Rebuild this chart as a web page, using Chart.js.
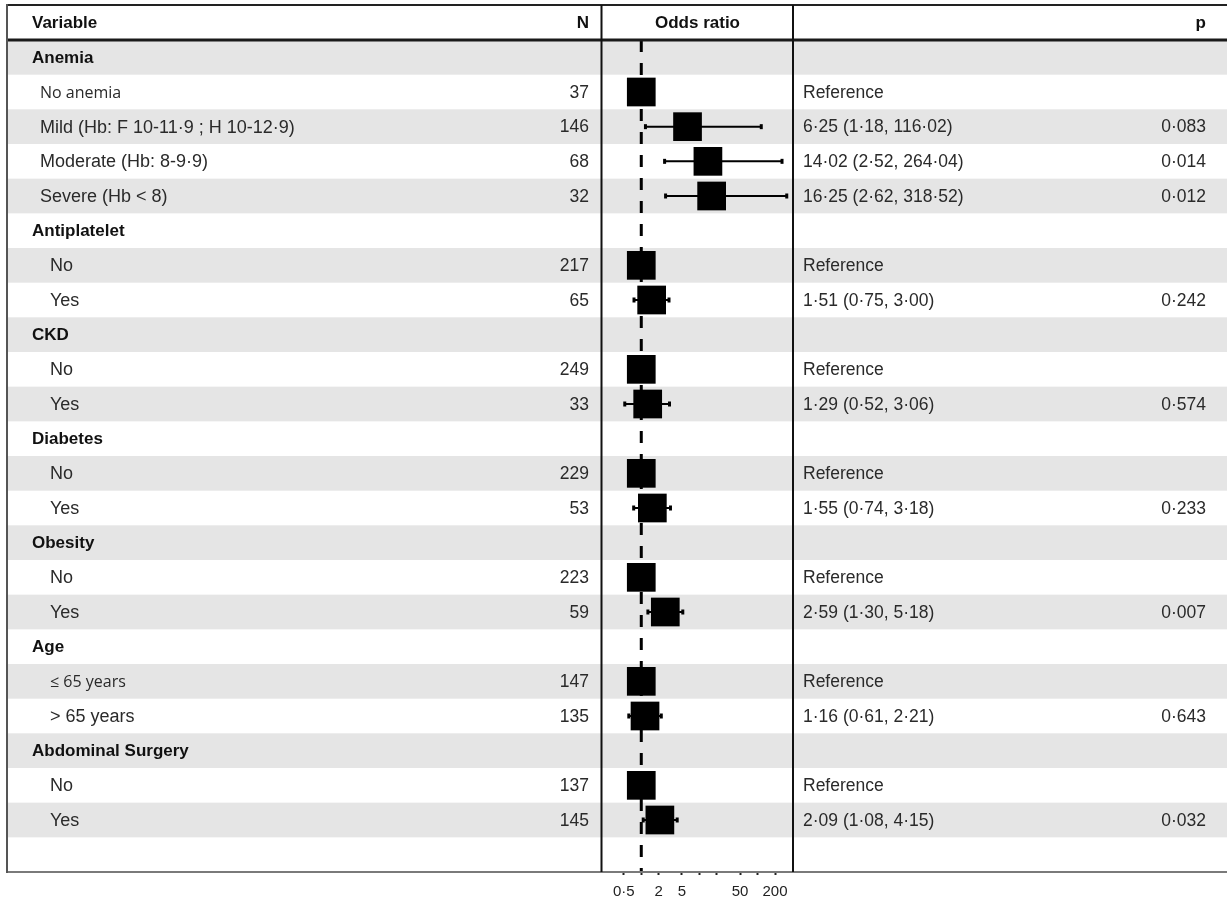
<!DOCTYPE html>
<html>
<head>
<meta charset="utf-8">
<title>Forest plot</title>
<script src="https://cdn.jsdelivr.net/npm/chart.js@4.4.1/dist/chart.umd.min.js"></script>
<style>
  html, body { margin: 0; padding: 0; background: #fff; }
  canvas { display: block; }
</style>
</head>
<body>
<canvas id="forest" width="1227" height="898"></canvas>
<script>
// ---- data -------------------------------------------------------------
const groupNames = ['Anemia', 'Antiplatelet', 'CKD', 'Diabetes', 'Obesity', 'Age', 'Abdominal Surgery'];
const levelLabels = [
  ['No anemia', 'Mild (Hb: F 10-11·9 ; H 10-12·9)', 'Moderate (Hb: 8-9·9)', 'Severe (Hb < 8)'],
  ['No', 'Yes'],
  ['No', 'Yes'],
  ['No', 'Yes'],
  ['No', 'Yes'],
  ['≤ 65 years', '> 65 years'],
  ['No', 'Yes']
];
const levelN = [[37, 146, 68, 32], [217, 65], [249, 33], [229, 53], [223, 59], [147, 135], [137, 145]];
// null = reference level (odds ratio fixed at 1)
const oddsRatio = [[null, 6.25, 14.02, 16.25], [null, 1.51], [null, 1.29], [null, 1.55], [null, 2.59], [null, 1.16], [null, 2.09]];
const ciLower   = [[null, 1.18, 2.52, 2.62],   [null, 0.75], [null, 0.52], [null, 0.74], [null, 1.30], [null, 0.61], [null, 1.08]];
const ciUpper   = [[null, 116.02, 264.04, 318.52], [null, 3.00], [null, 3.06], [null, 3.18], [null, 5.18], [null, 2.21], [null, 4.15]];
const pValues   = [[null, 0.083, 0.014, 0.012], [null, 0.242], [null, 0.574], [null, 0.233], [null, 0.007], [null, 0.643], [null, 0.032]];

const tickValues = [0.5, 1, 2, 5, 10, 20, 50, 100, 200];
const tickLabels = ['0·5', '', '2', '5', '', '', '50', '', '200'];
const headers = { variable: 'Variable', n: 'N', or: 'Odds ratio', p: 'p' };

// ---- row table --------------------------------------------------------
const rows = [];
groupNames.forEach((g, gi) => {
  rows.push({ kind: 'group', label: g, group: g });
  levelLabels[gi].forEach((lab, li) => {
    rows.push({
      kind: 'level', label: lab, group: g,
      n: levelN[gi][li],
      or: oddsRatio[gi][li], lo: ciLower[gi][li], hi: ciUpper[gi][li],
      p: pValues[gi][li]
    });
  });
});
rows.push({ kind: 'blank' });
const rowCount = rows.length;

const fmt = (v, d) => v.toFixed(d).replace('.', '·');

const squarePoints = [];
const ciPoints = [];
rows.forEach((r, i) => {
  if (r.kind !== 'level') return;
  const y = i + 0.5;
  squarePoints.push({ x: r.or == null ? 1 : r.or, y });
  if (r.or != null) {
    ciPoints.push({ x: r.lo, y }, { x: r.hi, y }, { x: null, y: null });
  }
});

// ---- drawing helpers ----------------------------------------------------
const FONT = '"Liberation Sans", Arial, sans-serif';
const compactLabels = new Set(['No anemia', '≤ 65 years']);
const levelIndent = { Anemia: 40 };

const tablePlugin = {
  id: 'tablePlugin',
  beforeDraw(chart) {
    const { ctx, width } = chart;
    const ys = chart.scales.y;
    ctx.save();
    ctx.fillStyle = '#fff';
    ctx.fillRect(0, 0, width, chart.height);
    ctx.fillStyle = '#e5e5e5';
    for (let i = 0; i < rowCount; i += 2) {
      const y0 = ys.getPixelForValue(i);
      const y1 = ys.getPixelForValue(i + 1);
      ctx.fillRect(8, y0, width - 8, y1 - y0);
    }
    ctx.restore();
  },
  afterDraw(chart) {
    const { ctx, width, chartArea } = chart;
    const ys = chart.scales.y;
    const top = 5, bottom = chartArea.bottom;
    ctx.save();

    // frame lines
    ctx.lineCap = 'butt';
    const line = (x0, y0, x1, y1, w, c) => {
      ctx.beginPath(); ctx.lineWidth = w; ctx.strokeStyle = c;
      ctx.moveTo(x0, y0); ctx.lineTo(x1, y1); ctx.stroke();
    };
    line(7, top, width, top, 2, '#222');
    line(7, 40, width, 40, 3, '#1a1a1a');
    line(7, bottom, width, bottom, 2, '#7a7a7a');
    line(7, top - 1, 7, bottom + 1, 2, '#555');
    line(chartArea.left - 0.5, top, chartArea.left - 0.5, bottom, 2, '#111');
    line(chartArea.right, top, chartArea.right, bottom, 2, '#111');

    // header
    const hy = 23;
    ctx.fillStyle = '#111';
    ctx.textBaseline = 'middle';
    ctx.font = 'bold 17px ' + FONT;
    ctx.textAlign = 'left';
    ctx.fillText(headers.variable, 32, hy);
    ctx.textAlign = 'right';
    ctx.fillText(headers.n, 589, hy);
    ctx.textAlign = 'center';
    ctx.fillText(headers.or, (chartArea.left + chartArea.right) / 2, hy);
    ctx.textAlign = 'right';
    ctx.fillText(headers.p, 1206, hy);

    // body
    rows.forEach((r, i) => {
      if (r.kind === 'blank') return;
      const y = ys.getPixelForValue(i + 0.5) + 1;
      if (r.kind === 'group') {
        ctx.fillStyle = '#111';
        ctx.font = 'bold 17px ' + FONT;
        ctx.textAlign = 'left';
        ctx.fillText(r.label, 32, y);
        return;
      }
      ctx.fillStyle = '#2a2a2a';
      ctx.textAlign = 'left';
      ctx.font = compactLabels.has(r.label) ? '16px "Open Sans", sans-serif' : '18px ' + FONT;
      ctx.fillText(r.label, levelIndent[r.group] || 50, y);

      ctx.font = '17.5px ' + FONT;
      ctx.textAlign = 'right';
      ctx.fillText(String(r.n), 589, y);

      ctx.textAlign = 'left';
      const est = r.or == null ? 'Reference'
        : `${fmt(r.or, 2)} (${fmt(r.lo, 2)}, ${fmt(r.hi, 2)})`;
      ctx.fillText(est, 803, y);

      if (r.p != null) {
        ctx.textAlign = 'right';
        ctx.fillText(fmt(r.p, 3), 1206, y);
      }
    });
    ctx.restore();
  }
};

new Chart(document.getElementById('forest'), {
  type: 'scatter',
  data: {
    datasets: [
      {
        label: 'Odds ratio',
        data: squarePoints,
        pointStyle: 'rect',
        pointRadius: 20.3,
        pointHoverRadius: 20.3,
        backgroundColor: '#000',
        borderWidth: 0,
        order: 1
      },
      {
        label: '95% CI',
        data: ciPoints,
        showLine: true,
        spanGaps: false,
        borderColor: '#000',
        borderWidth: 2,
        pointStyle: 'line',
        pointRotation: 90,
        pointRadius: 2.5,
        pointBorderWidth: 3,
        pointBorderColor: '#000',
        order: 2
      },
      {
        label: 'No effect',
        data: [{ x: 1, y: 0 }, { x: 1, y: rowCount }],
        showLine: true,
        borderColor: '#000',
        borderWidth: 3,
        borderDash: [12, 11],
        pointRadius: 0,
        order: 3
      }
    ]
  },
  options: {
    responsive: false,
    animation: false,
    devicePixelRatio: 1,
    layout: { padding: { left: 602, right: 434, top: 40, bottom: 0 } },
    plugins: { legend: { display: false }, tooltip: { enabled: false } },
    scales: {
      x: {
        type: 'logarithmic',
        min: 0.211,
        max: 408,
        position: 'bottom',
        border: { display: false },
        grid: { drawOnChartArea: false, drawTicks: true, tickLength: 3, tickWidth: 2, tickColor: '#222' },
        ticks: {
          autoSkip: false,
          maxRotation: 0,
          padding: 8,
          color: '#222',
          font: { family: FONT, size: 15 },
          callback: (value) => {
            const k = tickValues.findIndex(t => Math.abs(t - value) < 1e-9);
            return k >= 0 ? tickLabels[k] : '';
          }
        },
        afterBuildTicks: (scale) => { scale.ticks = tickValues.map(v => ({ value: v })); },
        afterFit: (scale) => { scale.height = 26; }
      },
      y: {
        type: 'linear',
        min: 0,
        max: rowCount,
        reverse: true,
        display: false
      }
    }
  },
  plugins: [tablePlugin]
});
</script>
</body>
</html>
